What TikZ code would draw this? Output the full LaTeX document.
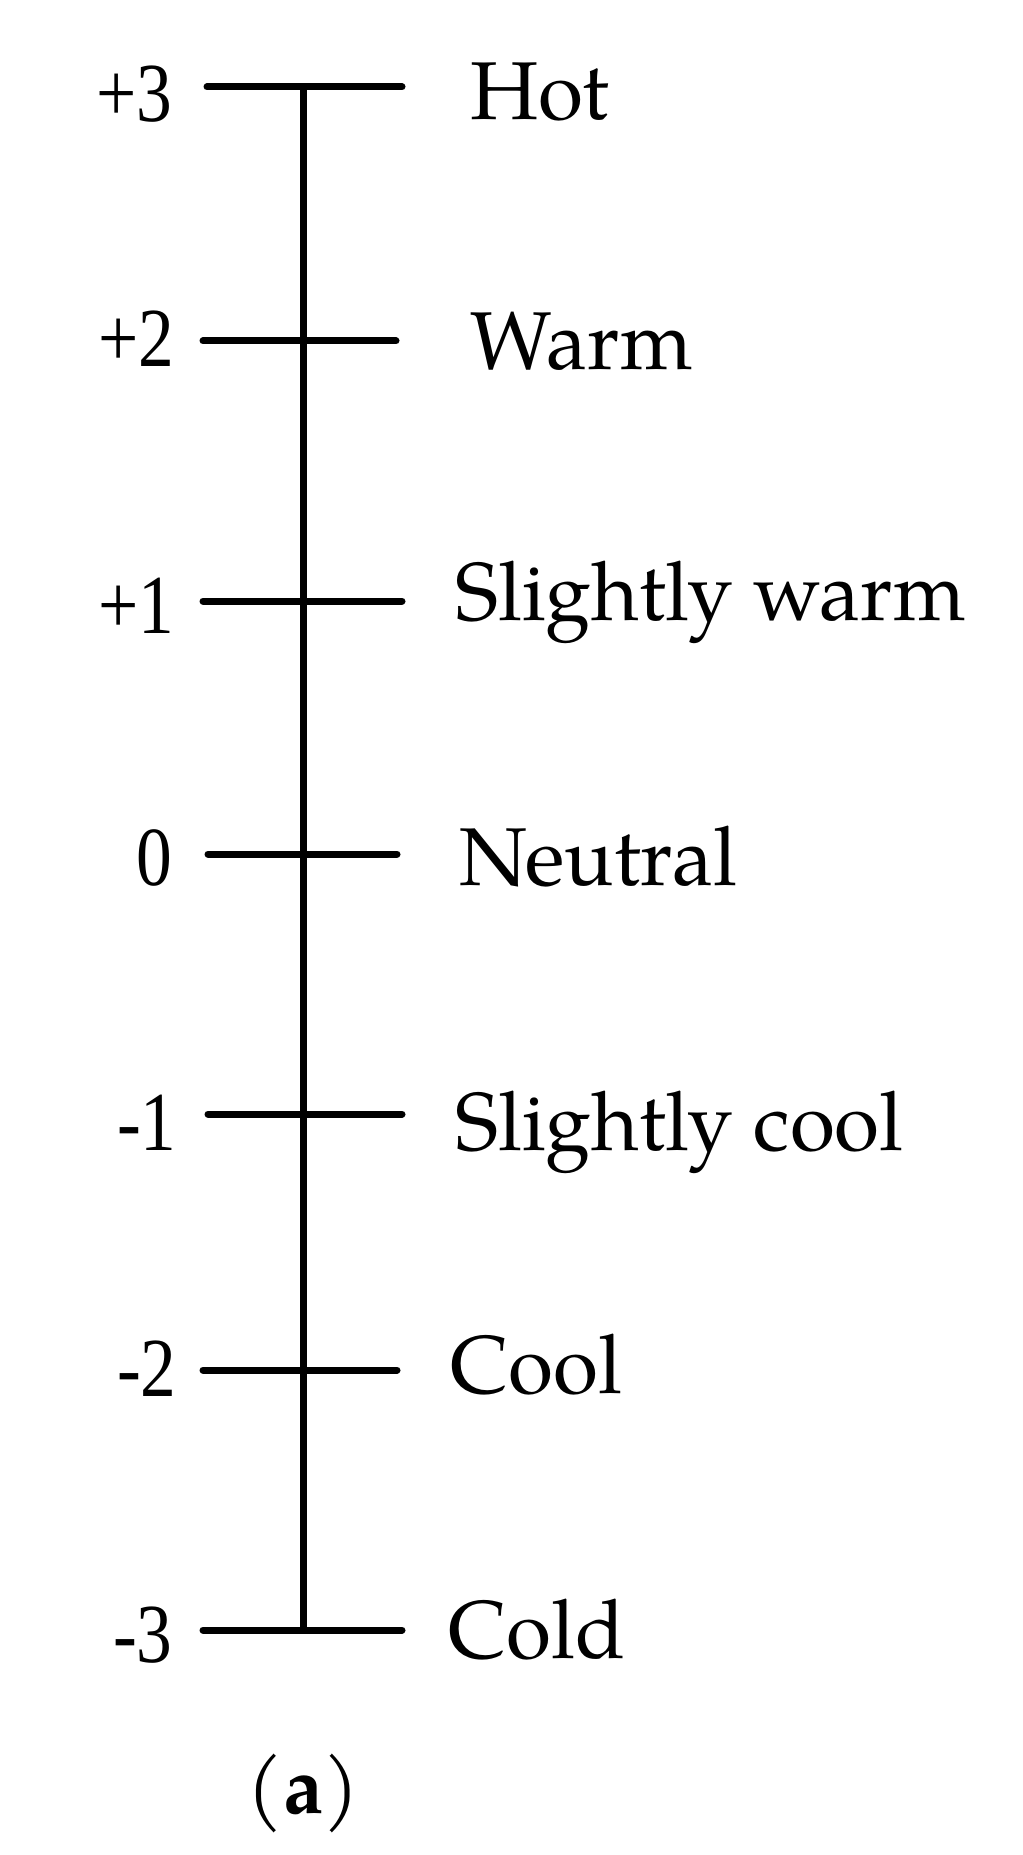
\documentclass[tikz,border=0pt]{standalone}
\usepackage{fontspec}
\setmainfont{TeX Gyre Pagella}
\newfontfamily\numfont[FakeStretch=0.85]{Liberation Serif}
\begin{document}
\begin{tikzpicture}[x=0.5pt,y=-0.5pt,
  tick/.style={line width=3.5pt,line cap=round},
  axisline/.style={line width=3.5pt},
  lab/.style={anchor=base west,inner sep=0pt,font=\fontsize{41}{46}\selectfont},
  num/.style={anchor=base east,inner sep=0pt,font=\numfont\fontsize{42}{48}\selectfont}]
\useasboundingbox (0,0) rectangle (1022,1855);
% tick end points
\coordinate (t3l) at (207,87);  \coordinate (t3r) at (402,87);
\coordinate (t2l) at (203,341); \coordinate (t2r) at (396,341);
\coordinate (t1l) at (203,601); \coordinate (t1r) at (402,601);
\coordinate (t0l) at (208,854); \coordinate (t0r) at (397,854);
\coordinate (m1l) at (208,1114); \coordinate (m1r) at (402,1114);
\coordinate (m2l) at (203,1370); \coordinate (m2r) at (397,1370);
\coordinate (m3l) at (203,1630); \coordinate (m3r) at (402,1630);
\coordinate (top) at (303,87); \coordinate (bot) at (303,1630);
\draw[axisline] (top) -- (bot);
\foreach \a in {t3,t2,t1,t0,m1,m2,m3} \draw[tick] (\a l) -- (\a r);
% numbers
\node[num] (n3) at (173,122) {+3};
\node[num] (n2) at (175,367) {+2};
\node[num] (n1) at (175,633) {+1};
\node[num] (n0) at (173,885) {0};
\node[num] (nm1) at (177,1150) {-1};
\node[num] (nm2) at (177,1396) {-2};
\node[num] (nm3) at (173,1662) {-3};
% labels
\node[lab] (hot) at (470,120) {Hot};
\node[lab] (warm) at (470,370) {Warm};
\node[lab] (swarm) at (455,620) {Slightly warm};
\node[lab] (neutral) at (459,885) {Neutral};
\node[lab] (scool) at (455,1150) {Slightly cool};
\node[lab] (cool) at (450,1393) {Cool};
\node[lab] (cold) at (448,1658) {Cold};
\node[anchor=base,inner sep=0pt,font=\fontsize{40}{46}\selectfont] (cap) at (303,1813) {(\textbf{a})};
\end{tikzpicture}
\end{document}
